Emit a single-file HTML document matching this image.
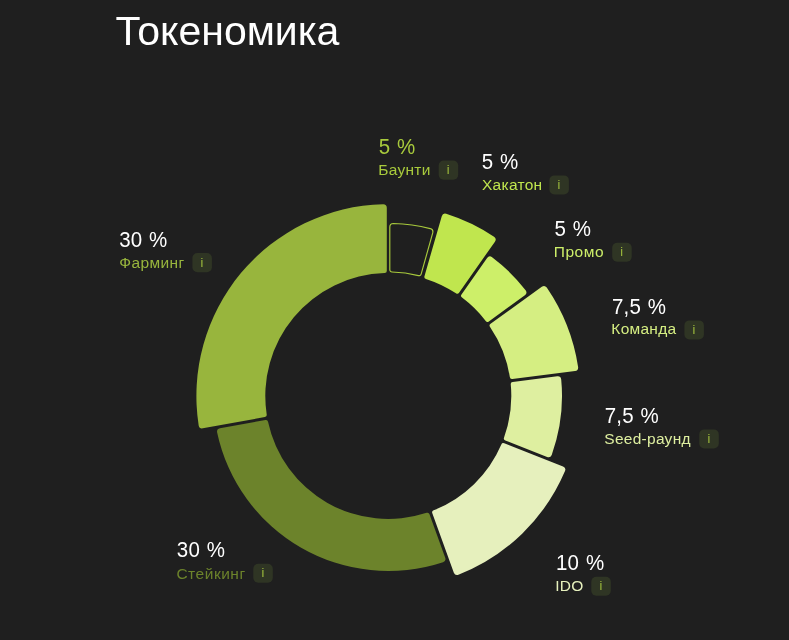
<!DOCTYPE html>
<html lang="ru"><head><meta charset="utf-8"><title>Токеномика</title>
<style>
html,body{margin:0;padding:0;background:#1f1f1f;}
body{width:789px;height:640px;position:relative;overflow:hidden;font-family:"Liberation Sans",Arial,sans-serif;color:#fff;}
h1{position:absolute;left:115.4px;top:7.5px;margin:0;font-weight:400;font-size:41px;line-height:46px;letter-spacing:0;}
svg{position:absolute;left:0;top:0;}
.v{position:absolute;white-space:nowrap;font-size:20.5px;line-height:26px;color:#fff;letter-spacing:0.25px;word-spacing:0.7px;transform:scaleY(1.06);transform-origin:0 20.1px;}
.n{position:absolute;white-space:nowrap;font-size:15.5px;line-height:20px;letter-spacing:0.27px;}
.i{position:absolute;width:19px;height:19px;color:#9fbe3c;font-size:12.5px;line-height:20px;text-align:center;}
</style></head><body>
<h1>Токеномика</h1>
<svg width="789" height="640" viewBox="0 0 789 640">
<path d="M393.40 223.48 A172.60 172.60 0 0 1 430.22 228.57 A3.60 3.60 0 0 1 432.73 232.94 L421.14 274.04 A2.20 2.20 0 0 1 418.41 275.61 A124.10 124.10 0 0 0 392.00 271.96 A2.20 2.20 0 0 1 389.80 269.71 L389.80 227.01 A3.60 3.60 0 0 1 393.40 223.48Z" fill="none" stroke="#a8ca3c" stroke-width="1.15"/>
<path d="M446.20 213.78 A191.20 191.20 0 0 1 494.03 236.69 A3.60 3.60 0 0 1 494.94 241.66 L459.06 292.71 A2.20 2.20 0 0 1 455.97 293.29 A123.00 123.00 0 0 0 425.95 278.90 A2.20 2.20 0 0 1 424.46 276.14 L441.76 216.18 A3.60 3.60 0 0 1 446.20 213.78Z" fill="#c0e64e"/>
<path d="M492.08 257.21 A173.30 173.30 0 0 1 525.63 290.30 A3.60 3.60 0 0 1 524.88 295.28 L488.83 321.38 A2.20 2.20 0 0 1 485.72 320.91 A123.00 123.00 0 0 0 462.02 297.54 A2.20 2.20 0 0 1 461.51 294.44 L487.10 258.03 A3.60 3.60 0 0 1 492.08 257.21Z" fill="#cdef69"/>
<path d="M546.76 287.59 A192.00 192.00 0 0 1 578.11 367.05 A3.60 3.60 0 0 1 575.04 371.06 L512.33 378.93 A2.20 2.20 0 0 1 509.83 377.03 A123.00 123.00 0 0 0 490.06 326.91 A2.20 2.20 0 0 1 490.59 323.81 L541.79 286.75 A3.60 3.60 0 0 1 546.76 287.59Z" fill="#d5ee82"/>
<path d="M561.21 379.45 A173.70 173.70 0 0 1 551.71 454.89 A3.60 3.60 0 0 1 547.11 456.94 L505.33 440.49 A2.20 2.20 0 0 1 504.05 437.62 A123.00 123.00 0 0 0 510.75 384.37 A2.20 2.20 0 0 1 512.70 381.91 L557.26 376.32 A3.60 3.60 0 0 1 561.21 379.45Z" fill="#deefa0"/>
<path d="M565.01 471.09 A192.00 192.00 0 0 1 458.42 574.74 A3.60 3.60 0 0 1 453.84 572.63 L432.32 513.21 A2.20 2.20 0 0 1 433.63 510.34 A123.00 123.00 0 0 0 501.33 444.50 A2.20 2.20 0 0 1 504.23 443.28 L563.04 466.44 A3.60 3.60 0 0 1 565.01 471.09Z" fill="#e6f0bd"/>
<path d="M443.05 562.22 A175.00 175.00 0 0 1 217.14 432.44 A3.60 3.60 0 0 1 219.96 428.27 L265.42 419.97 A2.20 2.20 0 0 1 268.02 421.73 A123.00 123.00 0 0 0 426.67 512.86 A2.20 2.20 0 0 1 429.50 514.23 L445.23 557.67 A3.60 3.60 0 0 1 443.05 562.22Z" fill="#6c832b"/>
<path d="M198.67 425.45 A191.90 191.90 0 0 1 383.20 204.17 A3.60 3.60 0 0 1 386.80 207.71 L386.80 270.81 A2.20 2.20 0 0 1 384.60 273.06 A123.00 123.00 0 0 0 266.69 414.45 A2.20 2.20 0 0 1 264.88 417.02 L202.80 428.35 A3.60 3.60 0 0 1 198.67 425.45Z" fill="#98b53d"/>
<rect x="438.70" y="160.60" width="19.5" height="19.1" rx="5" ry="5" fill="#2f3524"/>
<rect x="549.40" y="175.40" width="19.5" height="19.1" rx="5" ry="5" fill="#2f3524"/>
<rect x="612.20" y="242.70" width="19.5" height="19.1" rx="5" ry="5" fill="#2f3524"/>
<rect x="684.40" y="320.40" width="19.5" height="19.1" rx="5" ry="5" fill="#2f3524"/>
<rect x="699.30" y="429.40" width="19.5" height="19.1" rx="5" ry="5" fill="#2f3524"/>
<rect x="591.30" y="576.70" width="19.5" height="19.1" rx="5" ry="5" fill="#2f3524"/>
<rect x="253.30" y="563.70" width="19.5" height="19.1" rx="5" ry="5" fill="#2f3524"/>
<rect x="192.40" y="253.10" width="19.5" height="19.1" rx="5" ry="5" fill="#2f3524"/>
</svg>
<div class="v" style="left:378.78px;top:133.90px;color:#a8ca3c">5 %</div>
<div class="n" style="left:378.36px;top:159.53px;color:#a8ca3c">Баунти</div>
<div class="i" style="left:438.70px;top:160.30px">i</div>
<div class="v" style="left:481.78px;top:148.90px">5 %</div>
<div class="n" style="left:482.02px;top:174.53px;color:#c0e64e">Хакатон</div>
<div class="i" style="left:549.40px;top:175.10px">i</div>
<div class="v" style="left:554.58px;top:215.90px">5 %</div>
<div class="n" style="left:553.86px;top:241.53px;color:#cdef69;letter-spacing:0.5px">Промо</div>
<div class="i" style="left:612.20px;top:242.40px">i</div>
<div class="v" style="left:611.98px;top:293.70px">7,5 %</div>
<div class="n" style="left:611.36px;top:319.33px;color:#d5ee82">Команда</div>
<div class="i" style="left:684.40px;top:320.10px">i</div>
<div class="v" style="left:604.68px;top:402.60px">7,5 %</div>
<div class="n" style="left:604.30px;top:429.03px;color:#deefa0">Seed-раунд</div>
<div class="i" style="left:699.30px;top:429.10px">i</div>
<div class="v" style="left:555.95px;top:549.90px">10 %</div>
<div class="n" style="left:555.21px;top:576.43px;color:#e6f0bd">IDO</div>
<div class="i" style="left:591.30px;top:576.40px">i</div>
<div class="v" style="left:176.78px;top:536.90px">30 %</div>
<div class="n" style="left:176.42px;top:563.73px;color:#6c832b;letter-spacing:0.52px">Стейкинг</div>
<div class="i" style="left:253.30px;top:563.40px">i</div>
<div class="v" style="left:119.18px;top:226.90px">30 %</div>
<div class="n" style="left:119.36px;top:252.53px;color:#98b53d;letter-spacing:0.38px">Фарминг</div>
<div class="i" style="left:192.40px;top:252.80px">i</div>
</body></html>
